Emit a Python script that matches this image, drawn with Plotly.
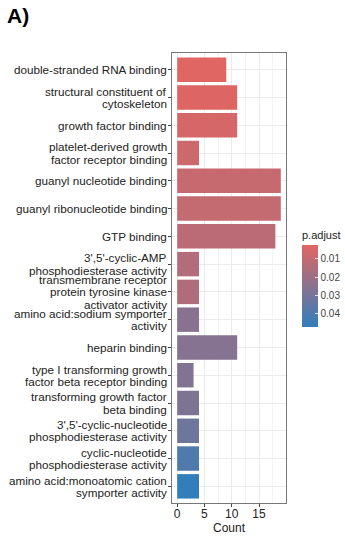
import plotly.graph_objects as go

categories = [
    "double-stranded RNA binding",
    "structural constituent of<br>cytoskeleton",
    "growth factor binding",
    "platelet-derived growth<br>factor receptor binding",
    "guanyl nucleotide binding",
    "guanyl ribonucleotide binding",
    "GTP binding",
    "3',5'-cyclic-AMP<br>phosphodiesterase activity",
    "transmembrane receptor<br>protein tyrosine kinase<br>activator activity",
    "amino acid:sodium symporter<br>activity",
    "heparin binding",
    "type I transforming growth<br>factor beta receptor binding",
    "transforming growth factor<br>beta binding",
    "3',5'-cyclic-nucleotide<br>phosphodiesterase activity",
    "cyclic-nucleotide<br>phosphodiesterase activity",
    "amino acid:monoatomic cation<br>symporter activity",
]
counts = [9, 11, 11, 4, 19, 19, 18, 4, 4, 4, 11, 3, 4, 4, 4, 4]
p_adjust = [0.0025, 0.0030, 0.0050, 0.0075, 0.0090, 0.0095, 0.0120, 0.0140,
            0.0150, 0.0250, 0.0260, 0.0270, 0.0280, 0.0320, 0.0400, 0.0475]
cb_ticks = [0.01, 0.02, 0.03, 0.04]
p_min, p_max = 0.0023, 0.0476

FONT = "Liberation Sans, Arial, sans-serif"
W, H = 345, 536
L, R, T, B = 172, 59, 53, 33
LINE_H = 12.3

# colour bar is reversed (smallest p at top), so map on -p
neg_p = [-v for v in p_adjust]

fig = go.Figure(go.Bar(
    x=counts,
    y=categories,
    orientation="h",
    width=0.88,
    marker=dict(
        color=neg_p,
        colorscale=[[0, "#327eba"], [1, "#e06663"]],
        cmin=-p_max, cmax=-p_min,
        line=dict(width=0),
        colorbar=dict(
            title=dict(text="p.adjust", side="top", font=dict(size=11, color="#222", family=FONT)),
            tickvals=[-v for v in cb_ticks],
            ticktext=[str(v) for v in cb_ticks],
            tickfont=dict(size=10, color="#444", family=FONT),
            thickness=16, thicknessmode="pixels",
            len=99, lenmode="pixels",
            x=(302 - L) / (W - L - R), xanchor="left", xref="paper",
            y=(H - B - 327) / (H - T - B), yanchor="bottom", yref="paper",
            outlinewidth=0, ticks="inside", ticklen=3, tickcolor="rgba(255,255,255,0.8)",
            xpad=0, ypad=0,
        ),
    ),
    showlegend=False,
))

# wrapped category labels with tight line spacing
annotations = []
for cat in categories:
    lines = cat.split("<br>")
    n = len(lines)
    for j, line in enumerate(lines):
        annotations.append(dict(
            x=0, xref="paper", xanchor="right", xshift=-3,
            y=cat, yref="y", yanchor="middle",
            yshift=((n - 1) / 2 - j) * LINE_H,
            text=line, showarrow=False,
            font=dict(size=11.7, color="#222", family=FONT),
        ))

fig.update_layout(
    width=W, height=H,
    margin=dict(l=L, r=R, t=T, b=B, pad=0, autoexpand=False),
    paper_bgcolor="white", plot_bgcolor="white",
    font=dict(family=FONT, color="#222"),
    title=dict(text="<b>A)</b>", x=7 / W, xanchor="left", xref="container",
               y=1 - 16 / H, yanchor="middle", yref="container",
               font=dict(size=21, color="black", family=FONT)),
    annotations=annotations,
)
fig.update_xaxes(
    range=[-0.95, 19.95],
    tickvals=[0, 5, 10, 15],
    ticks="outside", ticklen=3, tickcolor="#444",
    tickfont=dict(size=12, color="#222"),
    ticklabelstandoff=-3,
    showgrid=True, gridcolor="#ebebeb", gridwidth=1,
    minor=dict(dtick=2.5, tick0=0, showgrid=True, gridcolor="#f4f4f4", gridwidth=1),
    showline=True, linecolor="#777", linewidth=1, mirror=True,
    zeroline=False,
    title=dict(text="Count", font=dict(size=12, color="#222"), standoff=1),
)
fig.update_yaxes(
    type="category",
    categoryorder="array", categoryarray=categories,
    range=[15.6, -0.6],
    showticklabels=False,
    ticks="outside", ticklen=3, tickcolor="#444",
    showgrid=True, gridcolor="#ebebeb", gridwidth=1,
    showline=True, linecolor="#777", linewidth=1, mirror=True,
    zeroline=False,
)

fig.write_html("out.html",
               config={"displayModeBar": False},
               post_script="document.body.style.margin='0';document.body.style.overflow='hidden';")
